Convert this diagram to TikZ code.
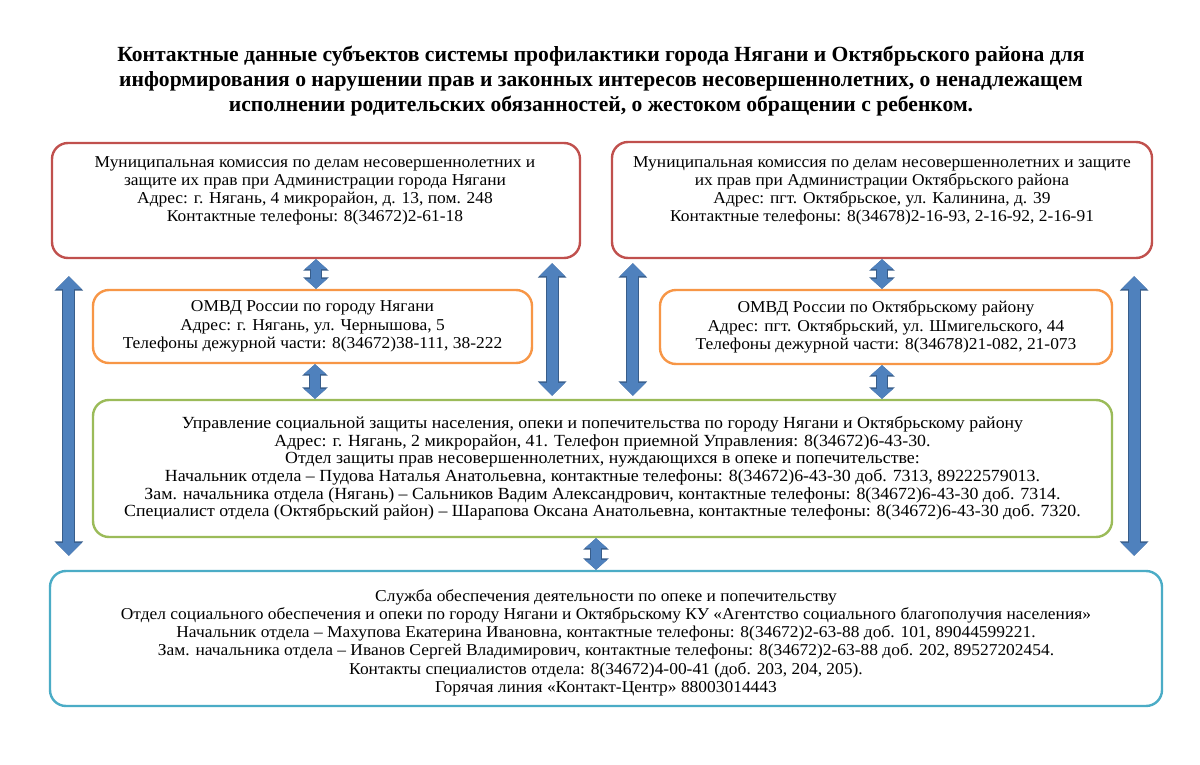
\documentclass[tikz,border=0pt]{standalone}
\usepackage{fontspec}
\setmainfont{Liberation Serif}
\newfontfamily\boxfont[FakeStretch=1.05, Ligatures=TeX]{Liberation Serif}
\usepackage{xcolor}
\usetikzlibrary{arrows.meta,calc}

\definecolor{komred}{HTML}{C0504D}
\definecolor{omvdorange}{HTML}{F79646}
\definecolor{usznGreen}{HTML}{9BBB59}
\definecolor{sluzhbablue}{HTML}{4BACC6}
\definecolor{arrowfill}{HTML}{4F81BD}
\definecolor{arrowedge}{HTML}{385D8A}

\tikzset{
  box/.style={draw, line width=2.4pt, rounded corners=16pt, inner sep=0pt, align=center},
  txt/.style={align=center, inner sep=0pt, font=\boxfont\fontsize{16.6}{18}\selectfont},
  smallarrow/.style={draw=arrowfill, line width=10pt,
    {Triangle[width=22pt,length=10pt]}-{Triangle[width=22pt,length=10pt]},
    preaction={draw=arrowedge, line width=12pt,
      {Triangle[width=25pt,length=11.5pt]}-{Triangle[width=25pt,length=11.5pt]}}},
  bigarrow/.style={draw=arrowfill, line width=11pt,
    {Triangle[width=25pt,length=13pt]}-{Triangle[width=25pt,length=13pt]},
    preaction={draw=arrowedge, line width=13pt,
      {Triangle[width=28pt,length=14.5pt]}-{Triangle[width=28pt,length=14.5pt]}}},
}

\begin{document}
\begin{tikzpicture}[x=1pt, y=-1pt]
    \useasboundingbox[fill=white] (0,0) rectangle (1200,765);

    % Title
    \node[align=center, inner sep=0pt, font=\fontsize{21.6}{25}\selectfont\bfseries] (title) at (601,81)
        {Контактные данные субъектов системы профилактики города Нягани и Октябрьского района для\\
         информирования о нарушении прав и законных интересов несовершеннолетних, о ненадлежащем\\
         исполнении родительских обязанностей, о жестоком обращении с ребенком.};

    % Commissions
    \node[box, draw=komred, minimum width=528pt, minimum height=115pt] (komnyag) at (316,200.5) {};
    \node[txt, anchor=north] (komnyagtxt) at (315,156)
        {Муниципальная комиссия по делам несовершеннолетних и\\
         защите их прав при Администрации города Нягани\\
         Адрес: г. Нягань, 4 микрорайон, д. 13, пом. 248\\
         Контактные телефоны: 8(34672)2-61-18};
    \node[box, draw=komred, minimum width=540pt, minimum height=116pt] (komokt) at (882,200) {};
    \node[txt, anchor=north] (komokttxt) at (882,156)
        {Муниципальная комиссия по делам несовершеннолетних и защите\\
         их прав при Администрации Октябрьского района\\
         Адрес: пгт. Октябрьское, ул. Калинина, д. 39\\
         Контактные телефоны: 8(34678)2-16-93, 2-16-92, 2-16-91};

    % Police
    \node[box, draw=omvdorange, minimum width=439pt, minimum height=73pt, font=\boxfont\fontsize{16.6}{18.5}\selectfont] (omvdnyag) at (312.5,326.5)
        {ОМВД России по городу Нягани\\
         Адрес: г. Нягань, ул. Чернышова, 5\\
         Телефоны дежурной части: 8(34672)38-111, 38-222};
    \node[box, draw=omvdorange, minimum width=452pt, minimum height=74pt, font=\boxfont\fontsize{16.6}{18.5}\selectfont] (omvdokt) at (886,327)
        {ОМВД России по Октябрьскому району\\
         Адрес: пгт. Октябрьский, ул. Шмигельского, 44\\
         Телефоны дежурной части: 8(34678)21-082, 21-073};

    % Social protection
    \node[box, draw=usznGreen, minimum width=1019pt, minimum height=137pt, font=\boxfont\fontsize{17}{17.6}\selectfont] (uszn) at (602.5,468.5)
        {Управление социальной защиты населения, опеки и попечительства по городу Нягани и Октябрьскому району\\
         Адрес: г. Нягань, 2 микрорайон, 41. Телефон приемной Управления: 8(34672)6-43-30.\\
         Отдел защиты прав несовершеннолетних, нуждающихся в опеке и попечительстве:\\
         Начальник отдела – Пудова Наталья Анатольевна, контактные телефоны: 8(34672)6-43-30 доб. 7313, 89222579013.\\
         Зам. начальника отдела (Нягань) – Сальников Вадим Александрович, контактные телефоны: 8(34672)6-43-30 доб. 7314.\\
         Специалист отдела (Октябрьский район) – Шарапова Оксана Анатольевна, контактные телефоны: 8(34672)6-43-30 доб. 7320.};

    % Guardianship service
    \node[box, draw=sluzhbablue, minimum width=1112pt, minimum height=135pt, font=\boxfont\fontsize{16.6}{18.2}\selectfont] (sluzhba) at (606,638.5)
        {\rule{0pt}{20pt}Служба обеспечения деятельности по опеке и попечительству\\
         Отдел социального обеспечения и опеки по городу Нягани и Октябрьскому КУ «Агентство социального благополучия населения»\\
         Начальник отдела – Махупова Екатерина Ивановна, контактные телефоны: 8(34672)2-63-88 доб. 101, 89044599221.\\
         Зам. начальника отдела – Иванов Сергей Владимирович, контактные телефоны: 8(34672)2-63-88 доб. 202, 89527202454.\\
         Контакты специалистов отдела: 8(34672)4-00-41 (доб. 203, 204, 205).\\
         Горячая линия «Контакт-Центр» 88003014443};

    % Short arrows
    \draw[smallarrow] (komnyag.south) -- (komnyag.south |- omvdnyag.north);
    \draw[smallarrow] ([xshift=2.5pt]omvdnyag.south) -- ([xshift=2.5pt]omvdnyag.south |- uszn.north);
    \draw[smallarrow] (komokt.south) -- (komokt.south |- omvdokt.north);
    \draw[smallarrow] ([xshift=-4pt]omvdokt.south) -- ([xshift=-4pt]omvdokt.south |- uszn.north);
    \draw[smallarrow] ([xshift=-6.5pt]uszn.south) -- ([xshift=-6.5pt]uszn.south |- sluzhba.north);

    % Long arrows
    \draw[bigarrow, shorten <=17pt, shorten >=14pt] ([xshift=18pt]komnyag.south west) -- ([xshift=20pt]sluzhba.north west);
    \draw[bigarrow, shorten <=4pt, shorten >=3pt] ([xshift=-29pt]komnyag.south east) -- ([xshift=-29pt]komnyag.south east |- uszn.north);
    \draw[bigarrow, shorten <=4pt, shorten >=3pt] ([xshift=22pt]komokt.south west) -- ([xshift=22pt]komokt.south west |- uszn.north);
    \draw[bigarrow, shorten <=17pt, shorten >=14pt] ([xshift=-19pt]komokt.south east) -- ([xshift=-29pt]sluzhba.north east);
\end{tikzpicture}
\end{document}
